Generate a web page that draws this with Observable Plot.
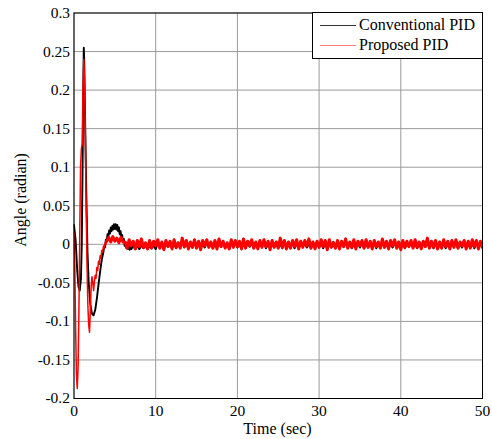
<!DOCTYPE html>
<html><head><meta charset="utf-8">
<script src="https://cdn.jsdelivr.net/npm/d3@7"></script>
<script src="https://cdn.jsdelivr.net/npm/@observablehq/plot@0.6"></script>
<style>
body{margin:0;background:#fff}
#wrap{position:relative;width:492px;height:439px;font-family:"Liberation Serif";color:#000}
#wrap svg{position:absolute;left:0;top:0}
.xlab{position:absolute;left:0;width:555px;top:419px;text-align:center;font-size:16px;line-height:20px}
.ylab{position:absolute;left:21px;top:200px;transform:translate(-50%,-50%) rotate(-90deg);white-space:nowrap;font-size:16px;line-height:20px}
.legend{position:absolute;left:312px;top:12px;width:169px;height:45px;border:1px solid #000;background:#fff;font-size:16px}
.legend .row{position:absolute;left:0;height:20px;line-height:20px;white-space:nowrap}
.legend .sw{position:absolute;left:7px;width:36px;height:1px;top:10px}
.legend .tx{position:absolute;left:46px;top:0}
</style>
</head><body><div id="wrap"></div>
<script>
// ---- data ----
const xTicks = [0, 10, 20, 30, 40, 50];
const xTickLabels = ["0", "10", "20", "30", "40", "50"];
const yTicks = [-0.2, -0.15, -0.1, -0.05, 0, 0.05, 0.1, 0.15, 0.2, 0.25, 0.3];
const yTickLabels = ["-0.2", "-0.15", "-0.1", "-0.05", "0", "0.05", "0.1", "0.15", "0.2", "0.25", "0.3"];
const seriesNames = ["Conventional PID", "Proposed PID"];
const seriesColors = ["#000000", "#ff0000"];

// Conventional PID: transient (time, angle)
const blackT = [0, 0.2, 0.4, 0.55, 0.7, 0.85, 0.95, 1.05, 1.15, 1.2, 1.25, 1.35, 1.5, 1.65, 1.8, 2.0, 2.2, 2.4, 2.6, 2.8, 3.0, 3.2, 3.4,
  3.6, 3.7, 3.8, 3.9, 4.0, 4.1, 4.2, 4.3, 4.4, 4.5, 4.6, 4.7, 4.8, 4.9, 5.0, 5.1, 5.2, 5.3, 5.4, 5.5, 5.6, 5.7, 5.8, 5.9, 6.0, 6.1, 6.2, 6.3, 6.4, 6.5, 6.6, 6.7, 6.8, 6.9, 7.0];
const blackY = [0.025, 0.005, -0.035, -0.055, -0.06, -0.045, 0.0, 0.1, 0.22, 0.255, 0.24, 0.17, 0.07, -0.01, -0.05, -0.078, -0.09, -0.092, -0.085, -0.07, -0.052, -0.035, -0.02,
  -0.010, -0.002, -0.004, 0.006, 0.004, 0.013, 0.010, 0.018, 0.014, 0.022, 0.017, 0.024, 0.019, 0.026, 0.020, 0.026, 0.019, 0.025, 0.017, 0.022, 0.013, 0.017, 0.008, 0.012, 0.003, 0.007, -0.002, 0.003, -0.005, 0.001, -0.006, -0.001, -0.007, -0.002, -0.006];
// Conventional PID: steady-state samples from t = 7.25 every 0.25 s
const blackTailStart = 7.25, blackTailStep = 0.25;
const blackTail = [-0.002, -0.006, -0.002, -0.006, -0.001, -0.005, -0.001, -0.006, -0.002, -0.005, -0.001, -0.006,
  0.002, -0.004, 0.001, -0.005, 0.002, -0.003, 0.003, -0.004, 0.001, -0.005, 0.002, -0.003, 0.003, -0.004,
  0.002, -0.005, 0.001, -0.004, 0.003, -0.003, 0.002, -0.005, 0.001, -0.004, 0.002, -0.003, 0.003, -0.005,
  0.001, -0.004, 0.002, -0.003, 0.003, -0.004, 0.001, -0.005, 0.002, -0.003, 0.003, -0.004, 0.002, -0.005,
  0.001, -0.004, 0.003, -0.003, 0.002, -0.005, 0.001, -0.004, 0.002, -0.003, 0.003, -0.005, 0.001, -0.004,
  0.002, -0.003, 0.003, -0.004, 0.001, -0.005, 0.002, -0.003, 0.003, -0.004, 0.002, -0.005, 0.001, -0.004,
  0.003, -0.003, 0.002, -0.004, 0.001, -0.005, 0.002, -0.003, 0.003, -0.004, 0.002, -0.005, 0.001, -0.004,
  0.002, -0.003, 0.003, -0.005, 0.001, -0.004, 0.002, -0.003, 0.003, -0.004, 0.001, -0.005, 0.002, -0.003,
  0.003, -0.004, 0.002, -0.005, 0.001, -0.004, 0.003, -0.003, 0.002, -0.005, 0.001, -0.004, 0.002, -0.003,
  0.003, -0.005, 0.001, -0.004, 0.002, -0.003, 0.003, -0.004, 0.001, -0.005, 0.002, -0.003, 0.003, -0.004,
  0.002, -0.005, 0.001, -0.004, 0.003, -0.003, 0.002, -0.004, 0.001, -0.005, 0.002, -0.003, 0.003, -0.004,
  0.002, -0.005, 0.001, -0.004, 0.002, -0.003, 0.003, -0.005, 0.001, -0.004, 0.002, -0.003, 0.003, -0.004,
  0.001, -0.005, 0.002, -0.003, 0.003, -0.004, 0.002, -0.005];

// Proposed PID: transient (time, angle)
const redT = [0, 0.1, 0.2, 0.3, 0.4, 0.5, 0.6, 0.7, 0.8, 0.9, 1.0, 1.1, 1.2, 1.3, 1.4, 1.5, 1.6, 1.7, 1.8, 1.9, 2.0, 2.1, 2.2, 2.3, 2.4, 2.5, 2.6, 2.7, 2.8, 2.9, 3.0, 3.1, 3.2, 3.3, 3.4, 3.5, 3.6, 3.7, 3.8, 3.9, 4.0];
const redY = [0.015, -0.03, -0.11, -0.17, -0.187, -0.16, -0.09, 0.01, 0.1, 0.124, 0.13, 0.2, 0.24, 0.21, 0.13, 0.04, -0.03, -0.08, -0.105, -0.114, -0.085, -0.055, -0.042, -0.05, -0.06, -0.048, -0.04, -0.044, -0.03, -0.034, -0.022, -0.026, -0.015, -0.018, -0.008, -0.01, -0.003, -0.005, 0.002, 0.0, 0.004];
// Proposed PID: steady-state samples from t = 4 every 0.25 s
const redTailStart = 4.0, redTailStep = 0.25;
const redTail = [0.004, 0.009, 0.003, 0.010, 0.004, 0.008, 0.002, 0.009, 0.003,
  0.003, -0.005, 0.006, -0.002, 0.004, -0.006, 0.005, -0.003, 0.007, -0.004, 0.002, -0.006, 0.005, -0.005, 0.004, -0.002, 0.006, -0.005, 0.003, -0.007,
  0.005, -0.003, 0.004, -0.006, 0.006, -0.004, 0.002, -0.005, 0.008, -0.003, 0.005, -0.006, 0.003, -0.004, 0.006, -0.005, 0.004, -0.007, 0.005, -0.002,
  0.006, -0.004, 0.003, -0.005, 0.005, -0.006, 0.007, -0.003, 0.004, -0.005, 0.002, -0.006, 0.006, -0.004, 0.005, -0.003, 0.004, -0.006, 0.007, -0.005,
  0.004, -0.002, 0.006, -0.005, 0.003, -0.006, 0.005, -0.004, 0.006, -0.003, 0.004, -0.007, 0.005, -0.004, 0.003, -0.005, 0.008, -0.004, 0.005, -0.006,
  0.003, -0.005, 0.005, -0.003, 0.006, -0.006, 0.004, -0.004, 0.005, -0.002, 0.007, -0.005, 0.003, -0.006, 0.004, -0.004, 0.006, -0.003, 0.005, -0.007,
  0.006, -0.004, 0.002, -0.005, 0.005, -0.006, 0.004, -0.003, 0.007, -0.005, 0.003, -0.004, 0.006, -0.006, 0.004, -0.002, 0.005, -0.005, 0.006, -0.004,
  0.004, -0.006, 0.005, -0.003, 0.003, -0.005, 0.007, -0.004, 0.004, -0.006, 0.005, -0.002, 0.006, -0.005, 0.003, -0.007, 0.005, -0.004, 0.004, -0.003,
  0.005, -0.005, 0.006, -0.004, 0.003, -0.006, 0.004, -0.003, 0.008, -0.005, 0.004, -0.004, 0.005, -0.006, 0.003, -0.005, 0.006, -0.003, 0.004, -0.006,
  0.005, -0.004, 0.006, -0.005, 0.003, -0.002, 0.005, -0.006, 0.004, -0.005, 0.006, -0.003, 0.005, -0.006, 0.004, -0.004,
  0.007, -0.005, 0.003, -0.006];

// ---- build tables ----
const blackHead = blackT.map((t, i) => ({t, v: blackY[i]}));
const blackRest = [blackHead[blackHead.length - 1]].concat(blackTail.map((v, i) => ({t: blackTailStart + i * blackTailStep, v})));
const redHead = redT.map((t, i) => ({t, v: redY[i]}));
const redRest = redTail.map((v, i) => ({t: redTailStart + i * redTailStep, v}));

const chart = Plot.plot({
  width: 492, height: 439,
  marginLeft: 73.5, marginRight: 10, marginTop: 12.5, marginBottom: 41,
  style: {fontSize: "15.5px", fontFamily: "Liberation Serif", background: "white", color: "black", overflow: "visible"},
  x: {domain: [0, 50]},
  y: {domain: [-0.2, 0.3]},
  marks: [
    Plot.gridX(xTicks, {stroke: "#9a9a9a", strokeOpacity: 1}),
    Plot.gridY(yTicks, {stroke: "#9a9a9a", strokeOpacity: 1}),
    Plot.line(blackHead, {x: "t", y: "v", stroke: seriesColors[0], strokeWidth: 1.9, clip: true}),
    Plot.line(blackRest, {x: "t", y: "v", stroke: seriesColors[0], strokeWidth: 2.2, clip: true}),
    Plot.line(redHead, {x: "t", y: "v", stroke: seriesColors[1], strokeWidth: 1.5, clip: true}),
    Plot.line(redRest, {x: "t", y: "v", stroke: seriesColors[1], strokeWidth: 3, clip: true}),
    Plot.axisX(xTicks, {tickSize: 0, tickPadding: 6, label: null, tickFormat: (d, i) => xTickLabels[i]}),
    Plot.axisY(yTicks, {tickSize: 0, tickPadding: 4, label: null, tickFormat: (d, i) => yTickLabels[i]}),
    Plot.frame({stroke: "black", strokeWidth: 1})
  ]
});

const wrap = document.getElementById("wrap");
wrap.appendChild(chart);

const xl = document.createElement("div"); xl.className = "xlab"; xl.textContent = "Time (sec)"; wrap.appendChild(xl);
const yl = document.createElement("div"); yl.className = "ylab"; yl.textContent = "Angle (radian)"; wrap.appendChild(yl);

const lg = document.createElement("div"); lg.className = "legend";
seriesNames.forEach((name, i) => {
  const row = document.createElement("div"); row.className = "row"; row.style.top = (2 + i * 20) + "px";
  const sw = document.createElement("div"); sw.className = "sw"; sw.style.background = i === 0 ? "#333" : "#ff8080";
  const tx = document.createElement("div"); tx.className = "tx"; tx.textContent = name;
  row.appendChild(sw); row.appendChild(tx); lg.appendChild(row);
});
wrap.appendChild(lg);
</script>
</body></html>
